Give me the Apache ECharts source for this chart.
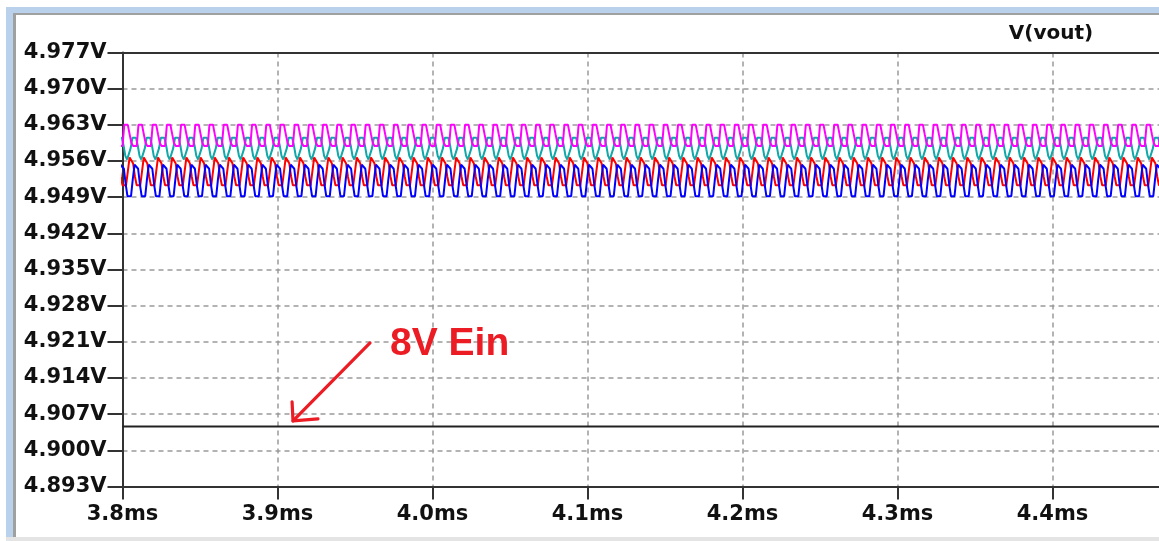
<!DOCTYPE html>
<html><head><meta charset="utf-8">
<script src="https://cdn.jsdelivr.net/npm/echarts@6/dist/echarts.min.js"></script>
<style>html,body{margin:0;padding:0;background:#fff;overflow:hidden}#c{width:1159px;height:541px}</style>
</head><body><div id="c"></div>
<script>
// ---- data ----
const xMinMs = 3.8, xMaxMs = 4.4687, xStepMs = 0.1;
const yMinV = 4.893, yMaxV = 4.977, yStepV = 0.007;
const traceName = 'V(vout)';
// switching ripple: one period (ms) and one cycle of each stepped trace, sampled evenly
const ripplePeriodMs = 0.00916;
const magentaCycle = [4.9589, 4.9630, 4.9630, 4.9630, 4.9612, 4.9595, 4.9589, 4.9589];
const tealCycle    = [4.9563, 4.9585, 4.9605, 4.9605, 4.9605, 4.9590, 4.9570, 4.9563];
const redCycle     = [4.9513, 4.9540, 4.9567, 4.9567, 4.9555, 4.9530, 4.9513, 4.9513];
const blueCycle    = [4.9492, 4.9525, 4.9553, 4.9553, 4.9545, 4.9515, 4.9492, 4.9492];
const cyclePhase   = {teal: 0.45, magenta: 0.0, red: 0.25, blue: 0.6};
// 8 V input trace (flat)
const ein8Times = [3.8, 4.4687];
const ein8Values = [4.9046, 4.9046];
// annotation (data coordinates)
const noteText = '8V Ein';
const noteAt = [3.9726, 4.9206];
const arrowFrom = [3.9597, 4.9208];
const arrowTip = [3.9100, 4.9057];
const arrowArmA = [3.9094, 4.9094];
const arrowArmB = [3.9261, 4.9061];

// ---- build periodic steady-state series from the read cycle ----
function buildTrace(cycle, phase) {
  const out = [];
  const n = cycle.length;
  const nCycles = Math.ceil((xMaxMs - xMinMs) / ripplePeriodMs) + 2;
  for (let k = -1; k < nCycles; k++) {
    for (let i = 0; i < n; i++) {
      const t = xMinMs + (k + phase + i / n) * ripplePeriodMs;
      out.push([t, cycle[i]]);
    }
  }
  return out;
}

const chart = echarts.init(document.getElementById('c'), null, {renderer: 'canvas'});
const labelFont = {fontFamily: 'DejaVu Sans', fontWeight: 'bold', fontSize: 21, color: '#111'};
const gridLine = {show: true, showMaxLine: false, lineStyle: {color: '#9a9a9a', width: 1.5, type: [5, 4]}};
const axisLn = {show: true, lineStyle: {color: '#333', width: 2}};

function trace(name, cycle, phase, color, z) {
  return {type: 'line', name: name, data: buildTrace(cycle, phase), symbol: 'none',
    lineStyle: {color: color, width: 2}, itemStyle: {color: color}, z: z, animation: false, clip: true};
}

chart.setOption({
  animation: false,
  backgroundColor: '#fff',
  grid: {left: 122.5, top: 52.5, right: 0, height: 434, show: false},
  xAxis: [
    {type: 'value', min: xMinMs, max: xMaxMs, interval: xStepMs, position: 'bottom',
      axisLine: axisLn, axisTick: {show: true, length: 13, lineStyle: {color: '#333', width: 2}},
      splitLine: gridLine,
      axisLabel: Object.assign({margin: 18, showMaxLabel: false, formatter: v => v.toFixed(1) + 'ms'}, labelFont)},
    {type: 'value', min: xMinMs, max: xMaxMs, interval: xStepMs, position: 'top',
      axisLine: axisLn, axisTick: {show: false}, splitLine: {show: false}, axisLabel: {show: false}}
  ],
  yAxis: {type: 'value', min: yMinV, max: yMaxV, interval: yStepV,
    axisLine: axisLn, axisTick: {show: true, length: 15, lineStyle: {color: '#333', width: 2}},
    splitLine: gridLine,
    axisLabel: Object.assign({margin: 16, formatter: v => v.toFixed(3) + 'V'}, labelFont)},
  series: [
    trace('step1', tealCycle, cyclePhase.teal, '#10a8a8', 3),
    trace('step2', magentaCycle, cyclePhase.magenta, '#ff00ff', 4),
    trace('step3', redCycle, cyclePhase.red, '#ff0000', 5),
    trace('step4', blueCycle, cyclePhase.blue, '#0000ff', 6),
    {type: 'line', name: 'Ein8', data: ein8Times.map((t, i) => [t, ein8Values[i]]), symbol: 'none',
      lineStyle: {color: '#222', width: 2}, z: 7}
  ]
});

const P = c => chart.convertToPixel({gridIndex: 0}, c);
const red = '#ec1c24';
const a0 = P(arrowFrom), a1 = P(arrowTip), h1 = P(arrowArmA), h2 = P(arrowArmB), tp = P(noteAt);
chart.setOption({
  graphic: [
    // window frame
    {type: 'rect', shape: {x: 6, y: 7, width: 1159, height: 6}, style: {fill: '#b9d1ea'}, silent: true},
    {type: 'rect', shape: {x: 6, y: 7, width: 7, height: 530}, style: {fill: '#b9d1ea'}, silent: true},
    {type: 'rect', shape: {x: 13, y: 13, width: 1146, height: 2}, style: {fill: '#a0a0a0'}, silent: true},
    {type: 'rect', shape: {x: 13, y: 13, width: 3, height: 524}, style: {fill: '#a0a0a0'}, silent: true},
    {type: 'rect', shape: {x: 6, y: 537, width: 1153, height: 4}, style: {fill: '#e4e4e4'}, silent: true},
    // trace label
    {type: 'text', x: 1051, y: 34, style: {text: traceName, fill: '#111', font: 'bold 20px "DejaVu Sans"', textAlign: 'center', textVerticalAlign: 'middle'}},
    // annotation
    {type: 'polyline', shape: {points: [a0, a1]}, style: {stroke: red, lineWidth: 3.2, lineCap: 'round'}, z: 20},
    {type: 'polyline', shape: {points: [h1, a1, h2]}, style: {stroke: red, lineWidth: 3.2, lineCap: 'round', lineJoin: 'round', fill: null}, z: 20},
    {type: 'text', x: tp[0], y: tp[1], style: {text: noteText, fill: red, font: 'bold 39px "Liberation Sans"', textAlign: 'left', textVerticalAlign: 'middle'}, z: 20}
  ]
});
</script></body></html>
